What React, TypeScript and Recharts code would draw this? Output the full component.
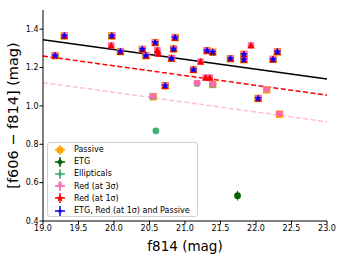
import React from 'react';
import { ScatterChart, Scatter, XAxis, YAxis, ReferenceLine, ErrorBar } from 'recharts';

// ---- data ----
const starX = [19.17, 19.30, 19.97, 20.09, 20.40, 20.45, 20.58, 20.84, 20.86, 20.81, 20.72, 21.12, 21.31, 21.39, 21.64, 21.83, 21.83, 22.03, 22.24, 22.30];
const starY = [1.262, 1.365, 1.365, 1.283, 1.295, 1.262, 1.330, 1.297, 1.356, 1.248, 1.105, 1.189, 1.288, 1.280, 1.246, 1.269, 1.241, 1.039, 1.243, 1.282];
const redOnlyX = [19.96, 20.61, 20.62, 21.22, 21.29, 21.35, 21.93];
const redOnlyY = [1.315, 1.29, 1.273, 1.231, 1.147, 1.147, 1.315];
const pinkGreenX = [20.55, 21.17, 21.39];
const pinkGreenY = [1.048, 1.117, 1.112];
const pinkOrangeX = [22.15, 22.33];
const pinkOrangeY = [1.084, 0.957];
const ellOnlyX = [20.59];
const ellOnlyY = [0.870];
const etgOnlyX = [21.74];
const etgOnlyY = [0.532];
const etgOnlyErr = [0.025];

const lineX = [19.0, 23.0];
const blackFitY = [1.345, 1.140];
const redFitY = [1.260, 1.056];
const pinkFitY = [1.122, 0.917];

const xTicks = [19.0, 19.5, 20.0, 20.5, 21.0, 21.5, 22.0, 22.5, 23.0];
const yTicks = [0.4, 0.6, 0.8, 1.0, 1.2, 1.4];

const legendLabels = ['Passive', 'ETG', 'Ellipticals', 'Red (at 3σ)', 'Red (at 1σ)', 'ETG, Red (at 1σ) and Passive'];

// ---- build series ----
const zip = (xs: number[], ys: number[]) => xs.map((x, i) => ({ x, y: ys[i] }));
const starPts = zip(starX, starY);
const redOnlyPts = zip(redOnlyX, redOnlyY);
const pinkGreenPts = zip(pinkGreenX, pinkGreenY);
const pinkOrangePts = zip(pinkOrangeX, pinkOrangeY);

const passiveData = [...starPts, ...pinkOrangePts, pinkGreenPts[0], pinkGreenPts[2]];
const etgData = [...starPts, ...etgOnlyX.map((x, i) => ({ x, y: etgOnlyY[i], err: etgOnlyErr[i] }))];
const ellData = [...pinkGreenPts, ...zip(ellOnlyX, ellOnlyY)];
const red3Data = [...starPts, ...redOnlyPts, ...pinkGreenPts, ...pinkOrangePts];
const red1Data = [...starPts, ...redOnlyPts];
const blueData = starPts;

const FONT = '"DejaVu Sans", sans-serif';
const C = {
  orange: '#ffa500',
  dgreen: '#006400',
  mgreen: '#3cb371',
  pink: '#ff69b4',
  red: '#ff0000',
  blue: '#0000ff',
};

const starPath = (cx: number, cy: number, R: number, r: number) => {
  const pts: string[] = [];
  for (let i = 0; i < 10; i++) {
    const a = -Math.PI / 2 + (i * Math.PI) / 5;
    const rad = i % 2 === 0 ? R : r;
    pts.push(`${cx + rad * Math.cos(a)},${cy + rad * Math.sin(a)}`);
  }
  return 'M' + pts.join('L') + 'Z';
};

const SquareShape = (color: string, s: number) => (p: any) =>
  p.cx == null ? <g /> : <rect x={p.cx - s / 2} y={p.cy - s / 2} width={s} height={s} fill={color} />;
const CircleShape = (color: string, r: number) => (p: any) =>
  p.cx == null ? <g /> : <circle cx={p.cx} cy={p.cy} r={r} fill={color} />;
const PinkShape = (color: string, s: number) => (p: any) =>
  p.cx == null ? <g /> : (
    <path d={`M${p.cx - s / 2},${p.cy - s / 2}L${p.cx + s / 2},${p.cy - s / 2}L${p.cx + s / 2},${p.cy + s / 6}L${p.cx},${p.cy + s / 2}L${p.cx - s / 2},${p.cy + s / 6}Z`} fill={color} />
  );
const UpTri = (color: string, s: number) => (p: any) =>
  p.cx == null ? <g /> : (
    <path d={`M${p.cx - s / 2},${p.cy + s / 2.4}L${p.cx + s / 2},${p.cy + s / 2.4}L${p.cx},${p.cy - s / 2}Z`} fill={color} />
  );
const StarShape = (color: string, R: number) => (p: any) =>
  p.cx == null ? <g /> : <path d={starPath(p.cx, p.cy, R, R * 0.45)} fill={color} />;

const LegendMarker = ({ idx }: { idx: number }) => {
  const c = 6, cy = 6;
  const col = [C.orange, C.dgreen, C.mgreen, C.pink, C.red, C.blue][idx];
  let m: React.ReactNode = null;
  if (idx === 0) m = <circle cx={c} cy={cy} r={3.6} fill={col} />;
  if (idx === 1) m = <path d={`M${c},${cy - 3.6}L${c + 3},${cy}L${c},${cy + 3.6}L${c - 3},${cy}Z`} fill={col} />;
  if (idx === 2) m = <path d={`M${c},${cy - 3.2}L${c + 2.2},${cy}L${c},${cy + 3.2}L${c - 2.2},${cy}Z`} fill={col} />;
  if (idx === 3) m = <path d={starPath(c, cy + 0.5, 4, 1.6)} fill={col} transform={`rotate(180 ${c} ${cy})`} />;
  if (idx === 4) m = <path d={starPath(c, cy + 0.3, 4, 1.8)} fill={col} />;
  if (idx === 5) m = <path d={starPath(c, cy, 2.5, 1.2)} fill={col} />;
  return (
    <svg width={12} height={12} style={{ display: 'block' }}>
      <line x1={c} y1={cy - 5} x2={c} y2={cy + 5} stroke={col} strokeWidth={1.5} />
      <line x1={c - 5} y1={cy} x2={c + 5} y2={cy} stroke={col} strokeWidth={1.5} />
      {m}
    </svg>
  );
};

const YLabel = (p: any) => {
  const vb = p.viewBox || {};
  const cx = 13;
  const cy = (vb.y ?? 10) + (vb.height ?? 211) / 2;
  return (
    <text x={cx} y={cy} transform={`rotate(-90 ${cx} ${cy})`} textAnchor="middle" dominantBaseline="central"
      fontSize={14.5} fontFamily={FONT} fill="#000">
      [f606 {'\u2212'} f814] (mag)
    </text>
  );
};

const XLabel = (p: any) => {
  const vb = p.viewBox || {};
  const cx = (vb.x ?? 43) + (vb.width ?? 284) / 2;
  return (
    <text x={cx} y={251} textAnchor="middle" fontSize={13.5} fontFamily={FONT} fill="#000">
      f814 (mag)
    </text>
  );
};

export default function App() {
  const tickStyle = { fontSize: 8, fill: '#000', fontFamily: FONT };
  return (
    <div style={{ position: 'absolute', left: 0, top: 0, width: 346, height: 259, background: '#fff' }}>
      <ScatterChart width={346} height={259} margin={{ top: 10, right: 19, bottom: 0, left: 0 }}>
        <XAxis type="number" dataKey="x" domain={[19, 23]} ticks={xTicks} tickFormatter={(v: number) => v.toFixed(1)}
          height={38} tick={tickStyle} tickSize={3.5} tickMargin={1} stroke="#000" axisLine={{ stroke: '#000' }}
          tickLine={{ stroke: '#000' }} label={<XLabel />} interval={0} allowDataOverflow />
        <XAxis xAxisId="top" orientation="top" type="number" domain={[19, 23]} height={0} tick={false} tickLine={false}
          axisLine={{ stroke: '#000' }} />
        <YAxis type="number" dataKey="y" domain={[0.4, 1.5]} ticks={yTicks} tickFormatter={(v: number) => v.toFixed(1)}
          width={43} tick={tickStyle} tickSize={3.5} tickMargin={1} axisLine={{ stroke: '#000' }}
          tickLine={{ stroke: '#000' }} label={<YLabel />} interval={0} allowDataOverflow />
        <YAxis yAxisId="right" orientation="right" type="number" domain={[0.4, 1.5]} width={0} tick={false}
          tickLine={false} axisLine={{ stroke: '#000' }} />

        <ReferenceLine segment={[{ x: lineX[0], y: blackFitY[0] }, { x: lineX[1], y: blackFitY[1] }]} stroke="#000" strokeWidth={1.5} />
        <ReferenceLine segment={[{ x: lineX[0], y: redFitY[0] }, { x: lineX[1], y: redFitY[1] }]} stroke={C.red} strokeWidth={1.5} strokeDasharray="5 2.5" />
        <ReferenceLine segment={[{ x: lineX[0], y: pinkFitY[0] }, { x: lineX[1], y: pinkFitY[1] }]} stroke="#ffc0cb" strokeWidth={1.5} strokeDasharray="5 2.5" />

        <Scatter name="Passive" data={passiveData} shape={SquareShape(C.orange, 7.5)} isAnimationActive={false} />
        <Scatter name="ETG" data={etgData} shape={CircleShape(C.dgreen, 3.4)} isAnimationActive={false}>
          <ErrorBar dataKey="err" direction="y" width={0} stroke={C.dgreen} strokeWidth={1.2} />
        </Scatter>
        <Scatter name="Ellipticals" data={ellData} shape={CircleShape(C.mgreen, 3.4)} isAnimationActive={false} />
        <Scatter name="Red3" data={red3Data} shape={PinkShape(C.pink, 6.5)} isAnimationActive={false} />
        <Scatter name="Red1" data={red1Data} shape={UpTri(C.red, 7.5)} isAnimationActive={false} />
        <Scatter name="Blue" data={blueData} shape={StarShape(C.blue, 3.8)} isAnimationActive={false} />
      </ScatterChart>

      <div style={{
        position: 'absolute', left: 47, top: 142, width: 151, height: 75, boxSizing: 'border-box',
        border: '1px solid #d0d0d0', borderRadius: 3, background: 'rgba(255,255,255,0.8)',
        fontFamily: FONT, fontSize: 8, color: '#000', paddingTop: 0.5,
      }}>
        {legendLabels.map((t, i) => (
          <div key={t} style={{ display: 'flex', alignItems: 'center', height: 12.2, position: 'relative' }}>
            <div style={{ position: 'absolute', left: 6 }}><LegendMarker idx={i} /></div>
            <span style={{ position: 'absolute', left: 26, whiteSpace: 'nowrap' }}>{t}</span>
          </div>
        ))}
      </div>
    </div>
  );
}
